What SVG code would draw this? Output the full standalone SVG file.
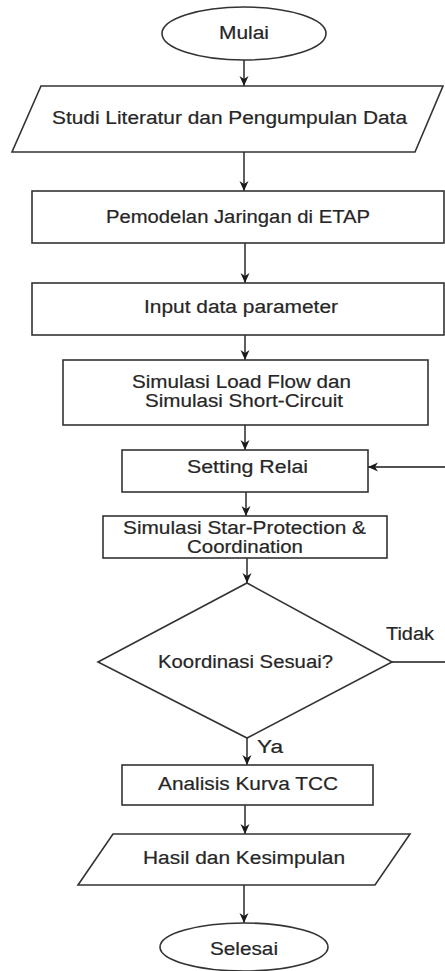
<svg xmlns="http://www.w3.org/2000/svg" width="445" height="971" viewBox="0 0 445 971">
  <defs>
    <style>
      .shape { fill: #ffffff; stroke: #333333; stroke-width: 1.6; }
      .edge { fill: none; stroke: #1a1a1a; stroke-width: 1.4; }
      .lbl { font-family: "Liberation Sans", Arial, sans-serif; font-size: 18px; fill: #262626; stroke: #262626; stroke-width: 0.2; }
    </style>
    <marker id="arrow" viewBox="0 0 10 10" refX="10" refY="5" markerWidth="10" markerHeight="10" markerUnits="userSpaceOnUse" orient="auto">
      <path d="M0,0.5 L10,5 L0,9.5 L3,5 Z" fill="#1a1a1a"/>
    </marker>
  </defs>
  <rect width="445" height="971" fill="#ffffff"/>

  <!-- connectors -->
  <g id="connectors">
    <line class="edge" x1="244" y1="60" x2="244" y2="86" marker-end="url(#arrow)"/>
    <line class="edge" x1="244" y1="152" x2="244" y2="191" marker-end="url(#arrow)"/>
    <line class="edge" x1="245" y1="243" x2="245" y2="283" marker-end="url(#arrow)"/>
    <line class="edge" x1="245" y1="335" x2="245" y2="360" marker-end="url(#arrow)"/>
    <line class="edge" x1="245" y1="425" x2="245" y2="450" marker-end="url(#arrow)"/>
    <line class="edge" x1="246" y1="492" x2="246" y2="516" marker-end="url(#arrow)"/>
    <line class="edge" x1="247" y1="558" x2="247" y2="583" marker-end="url(#arrow)"/>
    <line class="edge" x1="247" y1="738" x2="247" y2="765" marker-end="url(#arrow)"/>
    <line class="edge" x1="245" y1="805" x2="245" y2="834" marker-end="url(#arrow)"/>
    <line class="edge" x1="244" y1="885" x2="244" y2="923" marker-end="url(#arrow)"/>
    <!-- "Tidak" loop back to relay setting -->
    <path class="edge" d="M392,662 L446,662 L446,467 L368,467" marker-end="url(#arrow)"/>
    <text class="lbl" x="386" y="640" textLength="48" lengthAdjust="spacingAndGlyphs">Tidak</text>
    <text class="lbl" x="257" y="753" textLength="26" lengthAdjust="spacingAndGlyphs">Ya</text>
  </g>

  <g id="mulai">
    <ellipse class="shape" cx="244" cy="33.5" rx="82" ry="26.5"/>
    <text class="lbl" x="219" y="39" textLength="50" lengthAdjust="spacingAndGlyphs">Mulai</text>
  </g>

  <g id="studi-literatur">
    <polygon class="shape" points="41,86 443,86 415,152 12,152"/>
    <text class="lbl" x="52" y="124" textLength="355" lengthAdjust="spacingAndGlyphs">Studi Literatur dan Pengumpulan Data</text>
  </g>

  <g id="pemodelan">
    <rect class="shape" x="32" y="191" width="412" height="52"/>
    <text class="lbl" x="106" y="223" textLength="264" lengthAdjust="spacingAndGlyphs">Pemodelan Jaringan di ETAP</text>
  </g>

  <g id="input-data">
    <rect class="shape" x="32" y="283" width="412" height="52"/>
    <text class="lbl" x="144" y="313" textLength="194" lengthAdjust="spacingAndGlyphs">Input data parameter</text>
  </g>

  <g id="simulasi-lf-sc">
    <rect class="shape" x="63" y="360" width="365" height="65"/>
    <text class="lbl" x="132" y="388" textLength="219" lengthAdjust="spacingAndGlyphs">Simulasi Load Flow dan</text>
    <text class="lbl" x="145" y="407" textLength="198" lengthAdjust="spacingAndGlyphs">Simulasi Short-Circuit</text>
  </g>

  <g id="setting-relai">
    <rect class="shape" x="122" y="450" width="246" height="42"/>
    <text class="lbl" x="187" y="473" textLength="121" lengthAdjust="spacingAndGlyphs">Setting Relai</text>
  </g>

  <g id="simulasi-star">
    <rect class="shape" x="103" y="516" width="284" height="42"/>
    <text class="lbl" x="123" y="534" textLength="243" lengthAdjust="spacingAndGlyphs">Simulasi Star-Protection &amp;</text>
    <text class="lbl" x="187" y="553" textLength="116" lengthAdjust="spacingAndGlyphs">Coordination</text>
  </g>

  <g id="koordinasi">
    <polygon class="shape" points="247,583 392,662 247,738 98,662"/>
    <text class="lbl" x="158" y="668" textLength="175" lengthAdjust="spacingAndGlyphs">Koordinasi Sesuai?</text>
  </g>

  <g id="analisis-tcc">
    <rect class="shape" x="122" y="765" width="251" height="40"/>
    <text class="lbl" x="158" y="790" textLength="180" lengthAdjust="spacingAndGlyphs">Analisis Kurva TCC</text>
  </g>

  <g id="hasil">
    <polygon class="shape" points="113,834 410,834 375,885 78,885"/>
    <text class="lbl" x="143" y="864" textLength="202" lengthAdjust="spacingAndGlyphs">Hasil dan Kesimpulan</text>
  </g>

  <g id="selesai">
    <ellipse class="shape" cx="244" cy="947" rx="84" ry="24"/>
    <text class="lbl" x="210" y="955" textLength="68" lengthAdjust="spacingAndGlyphs">Selesai</text>
  </g>
</svg>
